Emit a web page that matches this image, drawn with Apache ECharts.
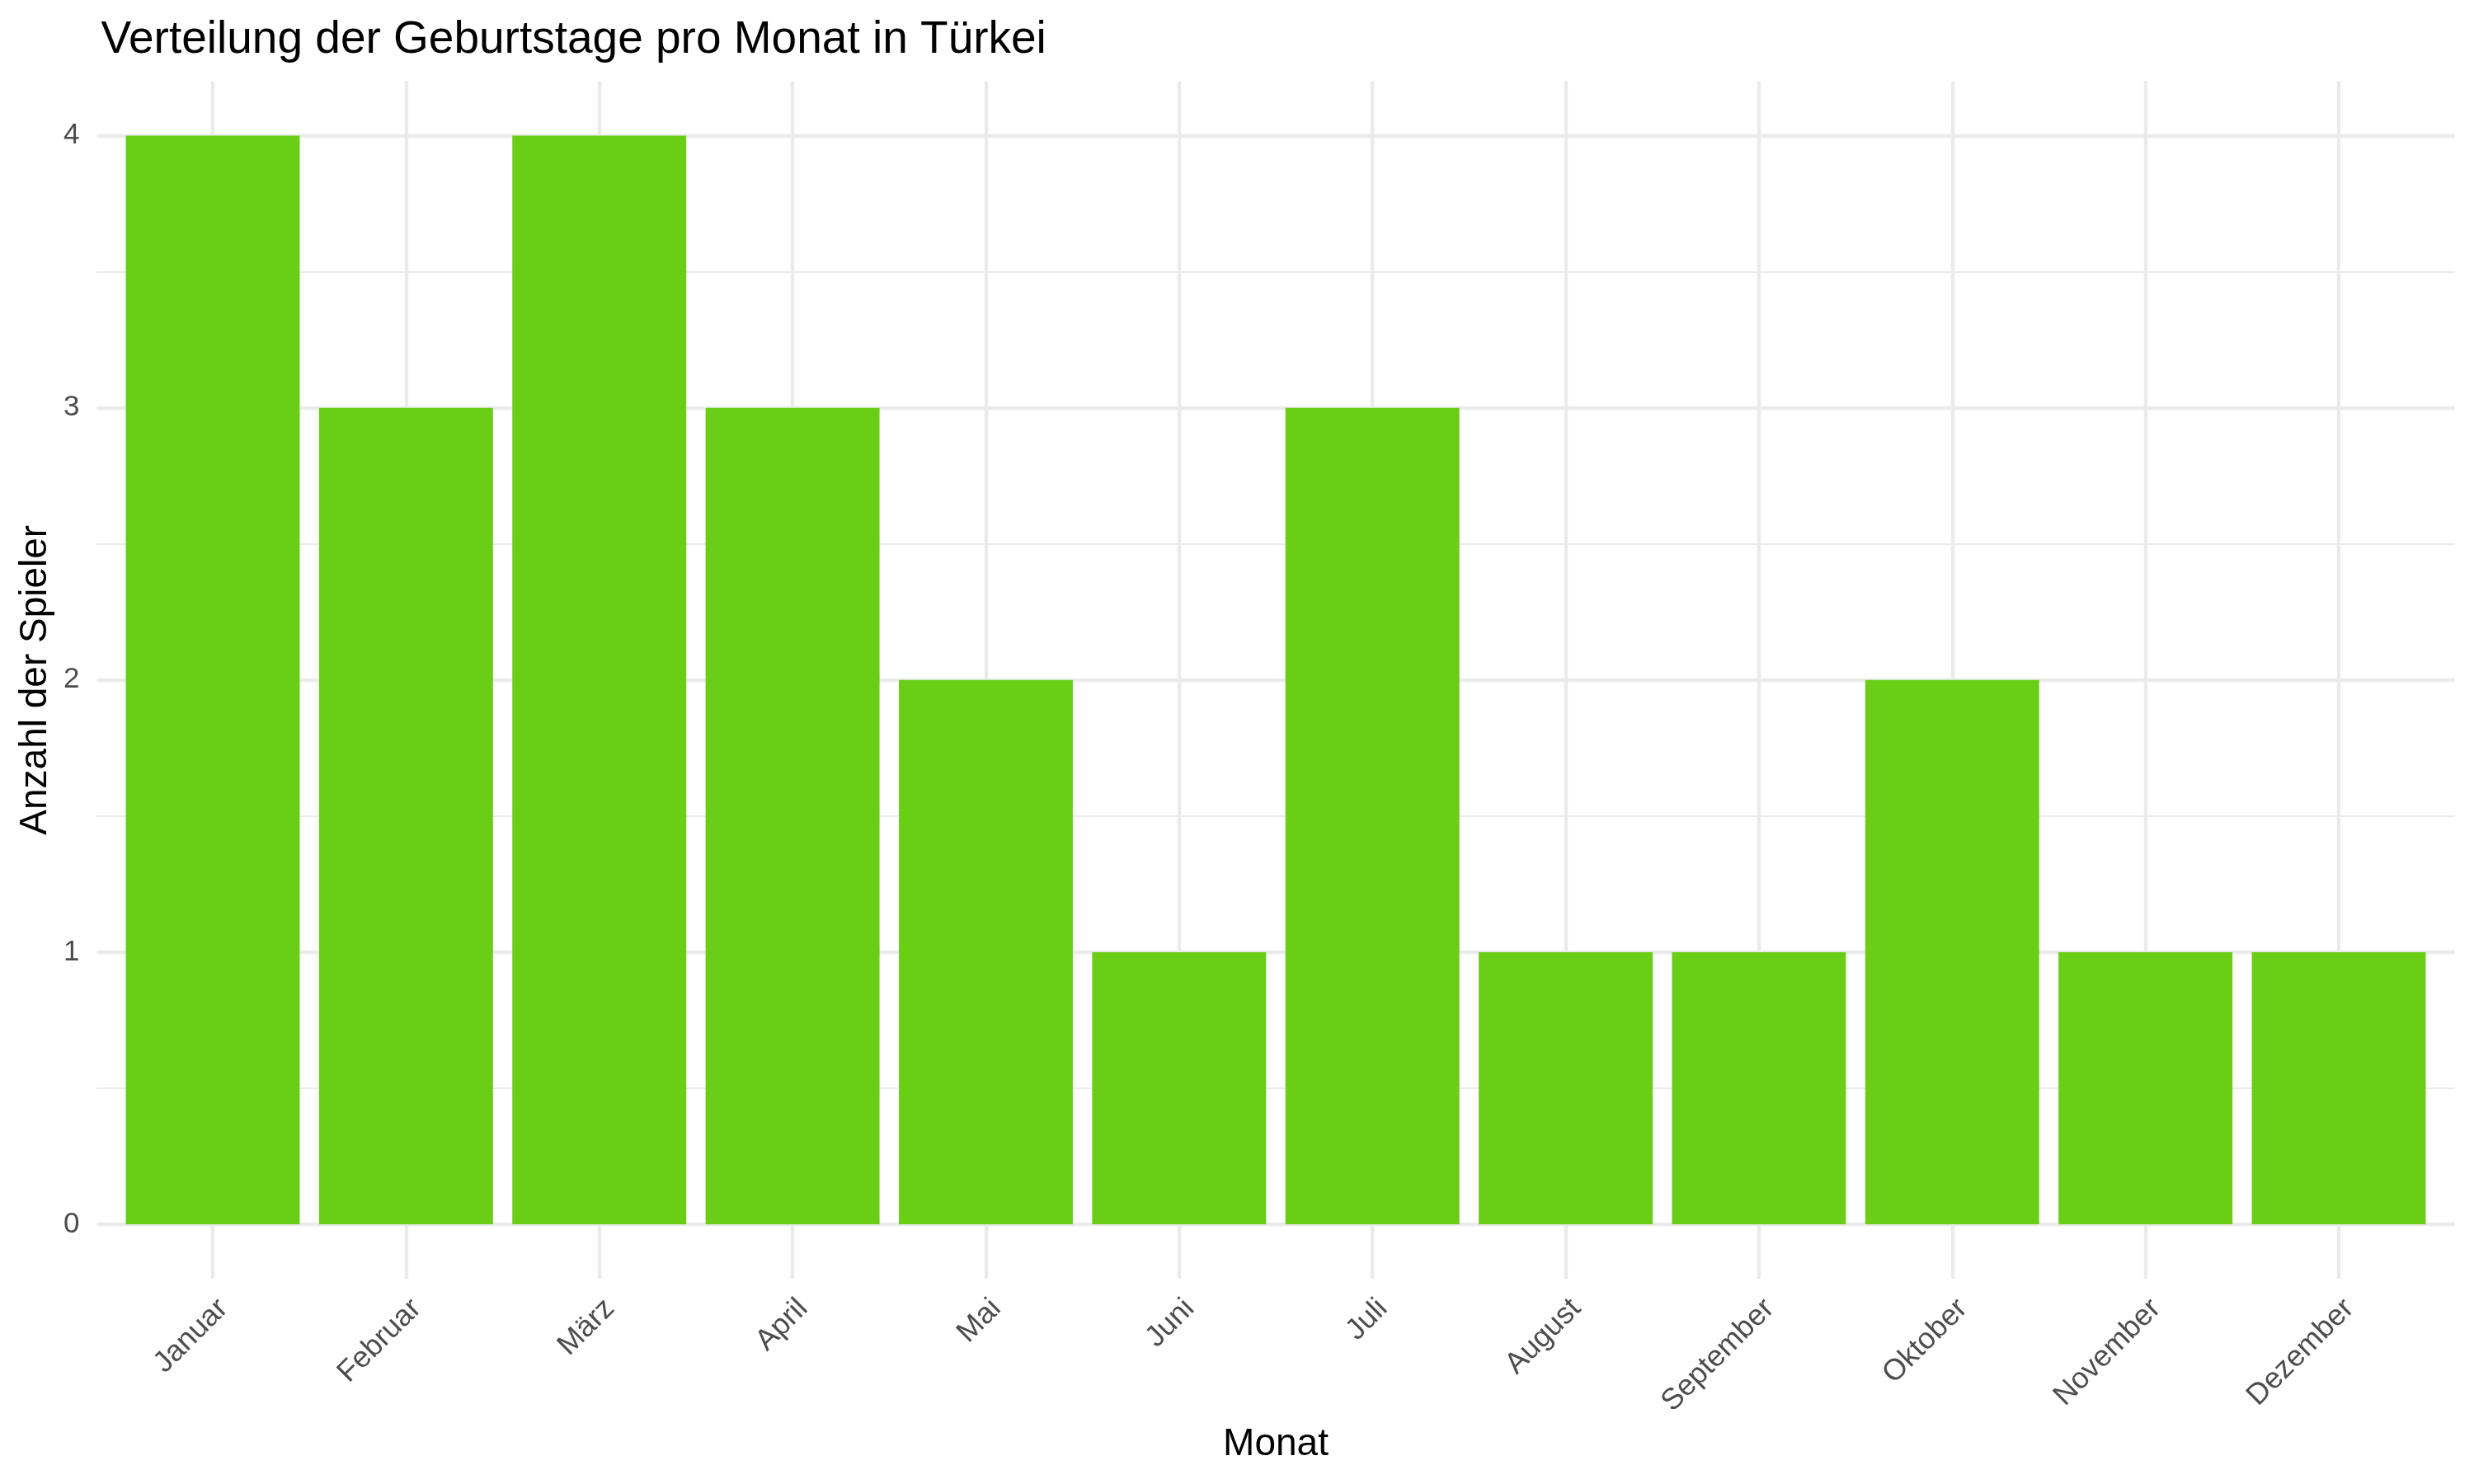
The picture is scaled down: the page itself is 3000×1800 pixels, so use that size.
<!DOCTYPE html>
<html>
<head>
<meta charset="utf-8">
<script src="https://cdn.jsdelivr.net/npm/echarts@6/dist/echarts.min.js"></script>
<style>html,body{margin:0;padding:0;background:#fff}#c{width:3000px;height:1800px}</style>
</head>
<body>
<div id="c"></div>
<script>
const months = ['Januar','Februar','März','April','Mai','Juni','Juli','August','September','Oktober','November','Dezember'];
const counts = [4, 3, 4, 3, 2, 1, 3, 1, 1, 2, 1, 1];
const yTicks = [0, 1, 2, 3, 4];
const titleText = 'Verteilung der Geburtstage pro Monat in Türkei';
const xTitle = 'Monat';
const yTitle = 'Anzahl der Spieler';

const W = 3000, H = 1800;
const FONT = 'Liberation Sans, Arial, Helvetica, sans-serif';
const centerFirst = 258, centerLast = 2836;
const band = (centerLast - centerFirst) / (months.length - 1);
const panelL = centerFirst - 0.6 * band, panelR = centerLast + 0.6 * band;
const yZero = 1485, yTop = 164.5;
const yMin = yTicks[0], yMax = yTicks[yTicks.length - 1];
const pxPerUnit = (yZero - yTop) / (yMax - yMin);
const expand = 0.05 * (yMax - yMin);
const panelT = yTop - expand * pxPerUnit, panelB = yZero + expand * pxPerUnit;
const gridCol = '#EBEBEB';

const chart = echarts.init(document.getElementById('c'), null, {renderer: 'canvas'});
chart.setOption({
  backgroundColor: '#ffffff',
  animation: false,
  title: {
    text: titleText, left: panelL, top: 16,
    textStyle: {fontFamily: FONT, fontSize: 55, fontWeight: 'normal', color: '#000'}
  },
  grid: [
    {left: centerFirst - band / 2, right: W - (centerLast + band / 2), top: panelT, bottom: H - panelB},
    {left: centerFirst, right: W - centerLast, top: panelT, bottom: H - panelB},
    {left: panelL, right: W - panelR, top: yTop, bottom: H - yZero}
  ],
  xAxis: [
    {
      gridIndex: 0, type: 'category', data: months, boundaryGap: true, position: 'bottom',
      axisLine: {show: false}, axisTick: {show: false}, splitLine: {show: false},
      axisLabel: {interval: 0, rotate: 45, margin: 18, verticalAlign: 'top', color: '#4D4D4D', fontFamily: FONT, fontSize: 36},
      name: xTitle, nameLocation: 'middle', nameGap: 178,
      nameTextStyle: {fontFamily: FONT, fontSize: 46, color: '#000'}
    },
    {
      gridIndex: 1, type: 'category', data: months, boundaryGap: false, position: 'bottom',
      axisLine: {show: false}, axisTick: {show: false}, axisLabel: {show: false},
      splitLine: {show: true, interval: 0, showMinLine: true, showMaxLine: true, lineStyle: {color: gridCol, width: 4.4}}
    },
    {
      gridIndex: 2, type: 'value', min: 0, max: 1, show: false, position: 'bottom'
    }
  ],
  yAxis: [
    {
      gridIndex: 0, type: 'value', min: yMin - expand, max: yMax + expand, show: false,
      position: 'left', splitLine: {show: false}
    },
    {
      gridIndex: 1, type: 'value', min: 0, max: 1, show: false, position: 'left', splitLine: {show: false}
    },
    {
      gridIndex: 2, type: 'value', min: yMin, max: yMax, interval: 0.5, position: 'left',
      axisLine: {show: false}, axisTick: {show: false}, axisLabel: {show: false},
      splitLine: {show: true, lineStyle: {color: gridCol, width: 2.2}}
    },
    {
      gridIndex: 2, type: 'value', min: yMin, max: yMax, interval: 1, position: 'left',
      axisLine: {show: false}, axisTick: {show: false},
      axisLabel: {margin: 21, color: '#4D4D4D', fontFamily: FONT, fontSize: 35},
      splitLine: {show: true, lineStyle: {color: gridCol, width: 4.4}},
      name: yTitle, nameLocation: 'middle', nameGap: 50, nameRotate: 90,
      nameTextStyle: {fontFamily: FONT, fontSize: 46, color: '#000'}
    }
  ],
  series: [{
    type: 'bar', xAxisIndex: 0, yAxisIndex: 0,
    data: counts, barWidth: '90%',
    itemStyle: {color: '#6ACD16'}, z: 5
  }]
});
</script>
</body>
</html>
